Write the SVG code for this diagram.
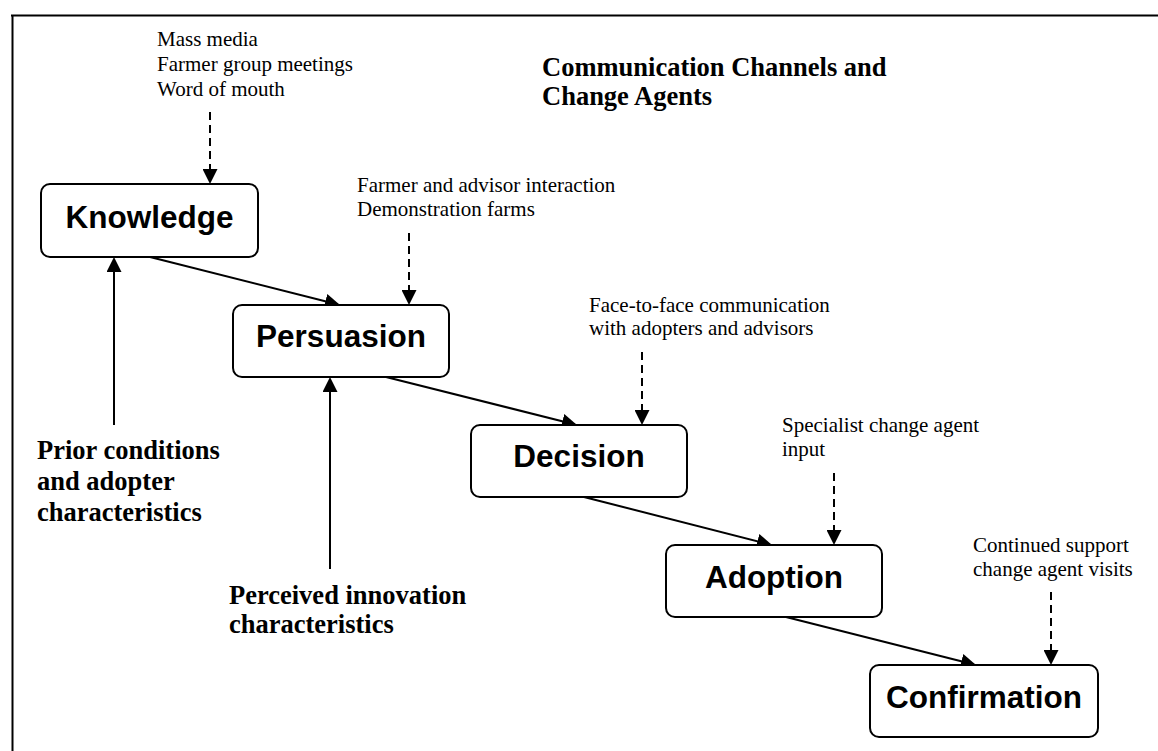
<svg xmlns="http://www.w3.org/2000/svg" width="1158" height="751" viewBox="0 0 1158 751">
  <defs>
    <style>
      .frame { fill: none; stroke: #000; stroke-width: 2; }
      .box { fill: #fff; stroke: #000; stroke-width: 2; }
      .box-label { font-family: "Liberation Sans", Arial, sans-serif; font-weight: bold; font-size: 31.5px; text-anchor: middle; fill: #000; }
      .channel { font-family: "Liberation Serif", "Times New Roman", serif; font-size: 21px; fill: #000; }
      .heading { font-family: "Liberation Serif", "Times New Roman", serif; font-weight: bold; font-size: 26.5px; fill: #000; }
      .flow { fill: none; stroke: #000; stroke-width: 2; marker-end: url(#head); }
      .channel-link { fill: none; stroke: #000; stroke-width: 2; stroke-dasharray: 8 5; marker-end: url(#head); }
    </style>
    <marker id="head" markerUnits="userSpaceOnUse" markerWidth="15" markerHeight="15" refX="13" refY="7.5" orient="auto">
      <path d="M0,0 L15,7.5 L0,15 z" fill="#000"/>
    </marker>
  </defs>

  <rect width="1158" height="751" fill="#fff"/>

  <!-- page frame (top and left rules) -->
  <path class="frame" d="M11,15.5 H1158 M12.5,15 V751"/>

  <!-- title -->
  <g id="title">
    <text class="heading" x="542" y="76">Communication Channels and</text>
    <text class="heading" x="542" y="105">Change Agents</text>
  </g>

  <!-- connectors -->
  <g id="connectors">
    <!-- main stage flow -->
    <path class="flow" d="M150,257 L338.06,304.5"/>
    <path class="flow" d="M386,377 L575.06,424.5"/>
    <path class="flow" d="M584,497 L770.06,544.5"/>
    <path class="flow" d="M786,617 L974.06,664.5"/>
    <!-- influences from below -->
    <path class="flow" d="M114,425 V259"/>
    <path class="flow" d="M330,569 V379"/>
    <!-- communication channels -->
    <path class="channel-link" d="M210,112 V182"/>
    <path class="channel-link" d="M409,233 V303"/>
    <path class="channel-link" d="M642,352 V423"/>
    <path class="channel-link" d="M834,473 V543"/>
    <path class="channel-link" d="M1051,592 V663"/>
  </g>

  <!-- stages -->
  <g id="knowledge">
    <rect class="box" x="41" y="184" width="217" height="73" rx="9"/>
    <text class="box-label" x="149.5" y="228">Knowledge</text>
  </g>
  <g id="persuasion">
    <rect class="box" x="233" y="305" width="216" height="72" rx="9"/>
    <text class="box-label" x="341" y="347">Persuasion</text>
  </g>
  <g id="decision">
    <rect class="box" x="471" y="425" width="216" height="72" rx="9"/>
    <text class="box-label" x="579" y="467">Decision</text>
  </g>
  <g id="adoption">
    <rect class="box" x="666" y="545" width="216" height="72" rx="9"/>
    <text class="box-label" x="774" y="588">Adoption</text>
  </g>
  <g id="confirmation">
    <rect class="box" x="870" y="665" width="228" height="72" rx="9"/>
    <text class="box-label" x="984" y="708">Confirmation</text>
  </g>

  <!-- channel labels -->
  <g id="channels-knowledge">
    <text class="channel" x="157" y="46">Mass media</text>
    <text class="channel" x="157" y="71">Farmer group meetings</text>
    <text class="channel" x="157" y="96">Word of mouth</text>
  </g>
  <g id="channels-persuasion">
    <text class="channel" x="357" y="192">Farmer and advisor interaction</text>
    <text class="channel" x="357" y="216">Demonstration farms</text>
  </g>
  <g id="channels-decision">
    <text class="channel" x="589" y="312">Face-to-face communication</text>
    <text class="channel" x="589" y="335">with adopters and advisors</text>
  </g>
  <g id="channels-adoption">
    <text class="channel" x="782" y="432">Specialist change agent</text>
    <text class="channel" x="782" y="456">input</text>
  </g>
  <g id="channels-confirmation">
    <text class="channel" x="973" y="552">Continued support</text>
    <text class="channel" x="973" y="576">change agent visits</text>
  </g>

  <!-- influencing factors -->
  <g id="prior-conditions">
    <text class="heading" x="37" y="459">Prior conditions</text>
    <text class="heading" x="37" y="490">and adopter</text>
    <text class="heading" x="37" y="521">characteristics</text>
  </g>
  <g id="innovation-characteristics">
    <text class="heading" x="229" y="604">Perceived innovation</text>
    <text class="heading" x="229" y="633">characteristics</text>
  </g>
</svg>
